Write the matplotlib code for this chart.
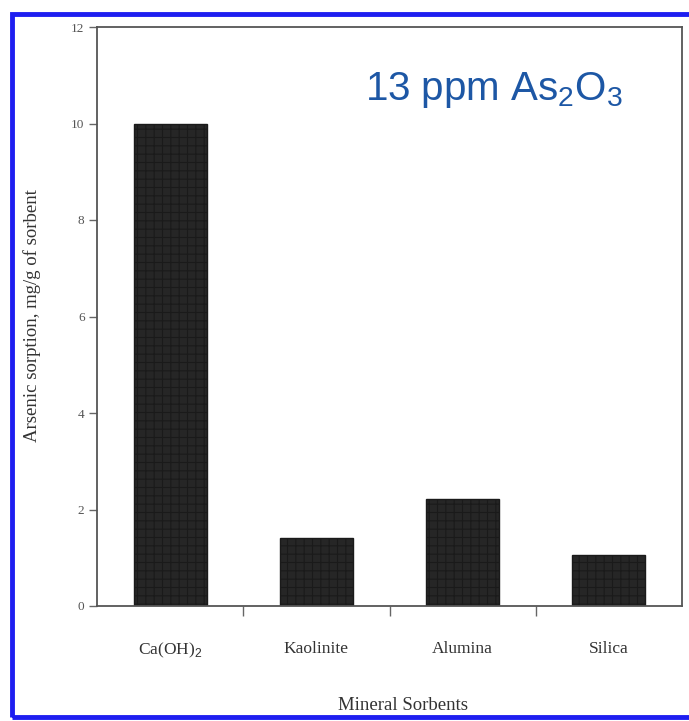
import numpy as np
from matplotlib import pyplot as plt
from matplotlib.patches import Rectangle

sorbents = ['Ca(OH)$_2$', 'Kaolinite', 'Alumina', 'Silica']
sorption = [10.0, 1.4, 2.22, 1.05]
y_ticks = [0, 2, 4, 6, 8, 10, 12]

plt.rcParams['font.family'] = ['Liberation Serif', 'DejaVu Serif']
plt.rcParams['mathtext.fontset'] = 'custom'
plt.rcParams['mathtext.rm'] = 'Liberation Sans'
plt.rcParams['hatch.color'] = '#5a5a5a'
plt.rcParams['hatch.linewidth'] = 0.8

fig = plt.figure(figsize=(6.89, 7.21), dpi=100)
ax = fig.add_axes([97/689, 1 - 606/721, (682 - 97)/689, (606 - 27)/721])

x = np.arange(len(sorbents))
ax.bar(x, sorption, width=0.5, color='#262626', edgecolor='#1a1a1a',
       hatch='++', linewidth=1)

ax.set_xlim(-0.5, 3.5)
ax.set_ylim(0, 12)
ax.set_yticks(y_ticks)
ax.set_xticks(x)
ax.set_xticklabels(sorbents, fontsize=12.5, color='#333333')
ax.set_xticks([0.5, 1.5, 2.5], minor=True)
ax.tick_params(axis='x', which='major', length=0, pad=25)
ax.tick_params(axis='x', which='minor', length=7, width=1, color='#666666', direction='out')
ax.tick_params(axis='y', length=6, width=1, color='#666666', labelsize=9.5,
               labelcolor='#555555', pad=3)

for s in ax.spines.values():
    s.set_color('#555555')
    s.set_linewidth(1.3)

fig.text(32/689, 1 - 316/721, 'Arsenic sorption, mg/g of sorbent', fontsize=13.5,
         color='#333333', rotation=90, ha='center', va='center')
fig.text(403/689, 1 - 705/721, 'Mineral Sorbents', fontsize=13.5,
         color='#333333', ha='center', va='center')

fig.text(365/689, 1 - 100/721, '13 ppm As$_2$O$_3$', fontsize=29, color='#1d57a5',
         family='Liberation Sans', ha='left', va='baseline')

fig.patches.append(Rectangle((12/689, 1 - 717/721), 1, (717 - 14)/721,
                             transform=fig.transFigure, fill=False,
                             edgecolor='#1e1ef0', linewidth=3.5))

fig.savefig('out.png', dpi=100)
